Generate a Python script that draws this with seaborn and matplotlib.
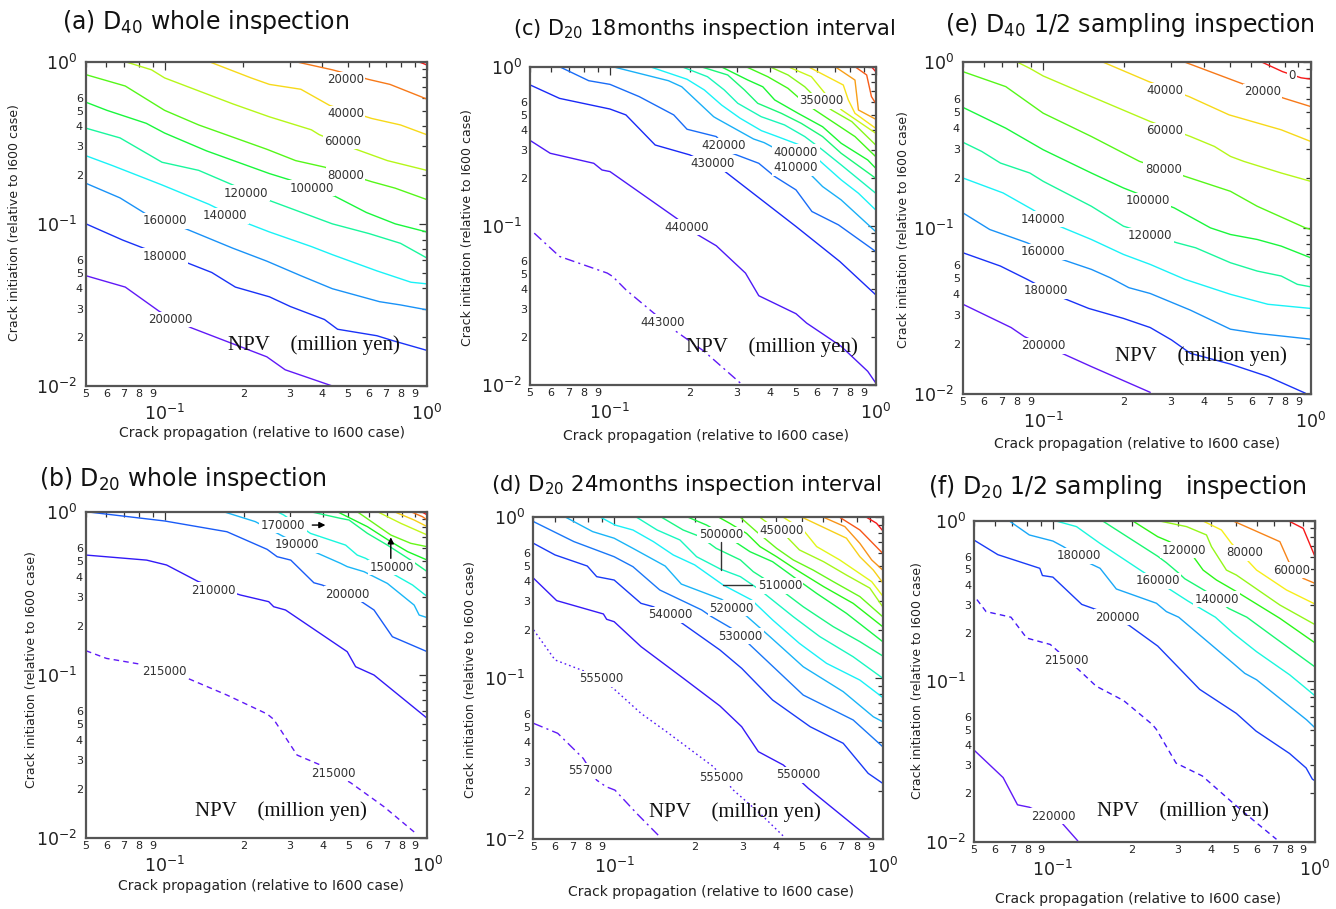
import colorsys
import numpy as np
import matplotlib
matplotlib.use("Agg")
import matplotlib.pyplot as plt
import seaborn as sns

sns.set_theme(style="white")
plt.rcParams["font.family"] = ["DejaVu Sans"]
plt.rcParams["mathtext.fontset"] = "dejavusans"

# ------------------------------------------------------------------
# NPV iso-lines (million yen).  Each line is given as log10 of the
# crack-propagation ratio (x) and log10 of the crack-initiation ratio (y).
# ------------------------------------------------------------------

# (a) D40 whole inspection
A_LEVELS = [200000, 180000, 160000, 140000, 120000, 100000, 80000, 60000, 40000, 20000, 0]
A_LOGX = [
    [-1.30, -1.15, -1.02, -0.90, -0.61, -0.54, -0.36],
    [-1.30, -1.16, -1.08, -0.93, -0.82, -0.73, -0.60, -0.52, -0.39, -0.34, -0.19, -0.13, 0.0],
    [-1.30, -1.17, -1.07, -0.92, -0.74, -0.61, -0.48, -0.36, -0.18, -0.10, 0.0],
    [-1.30, -1.20, -1.01, -0.83, -0.68, -0.60, -0.44, -0.36, -0.19, -0.06, 0.0],
    [-1.30, -1.17, -1.01, -0.87, -0.74, -0.61, -0.36, -0.22, -0.10, 0.0],
    [-1.30, -1.22, -1.07, -1.00, -0.84, -0.60, -0.52, -0.35, -0.23, -0.12, 0.0],
    [-1.30, -1.15, -1.00, -0.87, -0.61, -0.50, -0.39, -0.21, -0.12, 0.0],
    [-1.15, -1.05, -1.00, -0.74, -0.60, -0.44, -0.41, -0.27, -0.15, 0.0],
    [-0.83, -0.67, -0.60, -0.48, -0.37, -0.21, -0.10, 0.0],
    [-0.50, -0.36, -0.22, -0.14, 0.0],
    [-0.03, 0.0],
]
A_LOGY = [
    [-1.32, -1.39, -1.54, -1.64, -1.82, -1.90, -2.00],
    [-1.00, -1.10, -1.15, -1.23, -1.30, -1.39, -1.45, -1.51, -1.59, -1.65, -1.69, -1.72, -1.78],
    [-0.75, -0.84, -0.94, -1.03, -1.15, -1.23, -1.32, -1.40, -1.48, -1.50, -1.53],
    [-0.58, -0.64, -0.76, -0.88, -1.00, -1.05, -1.14, -1.19, -1.29, -1.36, -1.37],
    [-0.41, -0.47, -0.62, -0.67, -0.76, -0.85, -1.00, -1.06, -1.12, -1.21],
    [-0.25, -0.30, -0.38, -0.44, -0.55, -0.69, -0.73, -0.83, -0.93, -1.00, -1.05],
    [-0.08, -0.15, -0.30, -0.39, -0.54, -0.61, -0.65, -0.74, -0.78, -0.85],
    [0.0, -0.05, -0.10, -0.26, -0.34, -0.42, -0.45, -0.54, -0.61, -0.67],
    [0.0, -0.10, -0.14, -0.17, -0.27, -0.35, -0.39, -0.45],
    [0.0, -0.05, -0.11, -0.14, -0.23],
    [0.0, -0.02],
]

# (b) D20 whole inspection
B_LEVELS = [215000, 210000, 200000, 190000, 180000, 170000, 160000, 150000, 140000, 130000, 120000, 110000]
B_LOGX = [
    [-1.30, -1.222, -1.095, -0.916, -0.763, -0.61, -0.585, -0.496, -0.407, -0.292, -0.165, -0.044],
    [-1.30, -1.069, -0.993, -0.872, -0.712, -0.604, -0.585, -0.54, -0.305, -0.273, -0.203, 0.0],
    [-1.30, -1.00, -0.763, -0.61, -0.572, -0.52, -0.432, -0.40, -0.26, -0.203, -0.133, 0.0],
    [-0.776, -0.655, -0.547, -0.426, -0.33, -0.305, -0.241, -0.152, -0.05, -0.031, 0.0],
    [-0.572, -0.547, -0.445, -0.311, -0.267, -0.235, -0.056, 0.0],
    [-0.445, -0.33, -0.298, -0.228, -0.152, -0.063, 0.0],
    [-0.343, -0.228, -0.139, -0.075, 0.0],
    [-0.267, -0.139, -0.063, 0.0],
    [-0.19, -0.10, 0.0],
    [-0.126, -0.05, 0.0],
    [-0.063, -0.018, 0.0],
    [-0.022, 0.0],
]
B_LOGY = [
    [-0.853, -0.90, -0.935, -1.02, -1.125, -1.241, -1.274, -1.493, -1.554, -1.663, -1.81, -1.973],
    [-0.266, -0.297, -0.327, -0.429, -0.511, -0.552, -0.583, -0.603, -0.859, -0.951, -1.002, -1.268],
    [0.0, -0.057, -0.123, -0.231, -0.276, -0.297, -0.436, -0.45, -0.542, -0.603, -0.767, -0.859],
    [0.0, -0.061, -0.153, -0.249, -0.317, -0.337, -0.368, -0.44, -0.573, -0.634, -0.65],
    [0.0, -0.02, -0.133, -0.205, -0.266, -0.286, -0.45, -0.521],
    [0.0, -0.041, -0.051, -0.133, -0.205, -0.297, -0.368],
    [0.0, -0.092, -0.184, -0.245, -0.297],
    [0.0, -0.143, -0.194, -0.215],
    [0.0, -0.072, -0.143],
    [0.0, -0.051, -0.092],
    [0.0, -0.031, -0.051],
    [0.0, -0.02],
]

# (c) D20 18 months inspection interval
C_LEVELS = [443000, 440000, 430000, 420000, 410000, 400000, 390000, 380000,
            370000, 360000, 350000, 340000, 330000, 320000, 310000, 300000]
C_LOGX = [
    [-1.285, -1.19, -1.01, -0.99, -0.94, -0.76, -0.645, -0.51],
    [-1.30, -1.225, -1.061, -1.03, -1.00, -0.75, -0.67, -0.60, -0.49, -0.44, -0.30, -0.26, -0.13, -0.03, 0.0],
    [-1.30, -1.19, -1.00, -0.94, -0.83, -0.70, -0.57, -0.30, -0.135, 0.0],
    [-1.19, -1.08, -1.00, -0.89, -0.76, -0.71, -0.60, -0.54, -0.44, -0.38, -0.30, -0.24, -0.14, 0.0],
    [-0.99, -0.78, -0.73, -0.61, -0.60, -0.46, -0.42, -0.32, -0.25, -0.20, -0.13, 0.0],
    [-0.85, -0.71, -0.645, -0.58, -0.51, -0.43, -0.37, -0.27, -0.20, -0.13, -0.065, 0.0],
    [-0.73, -0.633, -0.57, -0.519, -0.431, -0.343, -0.267, -0.20, -0.13, 0.0],
    [-0.658, -0.557, -0.494, -0.444, -0.355, -0.28, -0.20, -0.13, 0.0],
    [-0.582, -0.481, -0.425, -0.38, -0.292, -0.20, -0.13, -0.03, 0.0],
    [-0.488, -0.406, -0.33, -0.28, -0.229, -0.153, -0.078, 0.0],
    [-0.399, -0.33, -0.267, -0.217, -0.166, -0.09, 0.0],
    [-0.33, -0.242, -0.191, -0.128, 0.0],
    [-0.254, -0.122, -0.103, -0.078, 0.0],
    [-0.153, -0.078, -0.065, 0.0],
    [-0.078, -0.034, -0.016, 0.0],
    [-0.016, 0.0],
]
C_LOGY = [
    [-1.046, -1.192, -1.297, -1.318, -1.402, -1.653, -1.789, -1.987],
    [-0.464, -0.544, -0.607, -0.649, -0.659, -0.952, -1.056, -1.125, -1.297, -1.439, -1.552, -1.611, -1.757, -1.914, -1.987],
    [-0.115, -0.199, -0.266, -0.303, -0.492, -0.554, -0.655, -1.004, -1.224, -1.433],
    [0.0, -0.088, -0.111, -0.188, -0.303, -0.393, -0.439, -0.544, -0.607, -0.69, -0.774, -0.91, -0.994, -1.161],
    [0.0, -0.088, -0.126, -0.314, -0.324, -0.454, -0.477, -0.565, -0.669, -0.753, -0.837, -1.036],
    [0.0, -0.079, -0.146, -0.241, -0.324, -0.402, -0.439, -0.502, -0.607, -0.711, -0.795, -0.90],
    [0.0, -0.063, -0.146, -0.23, -0.314, -0.366, -0.439, -0.523, -0.617, -0.795],
    [0.0, -0.052, -0.146, -0.23, -0.293, -0.356, -0.439, -0.544, -0.701],
    [0.0, -0.084, -0.126, -0.209, -0.293, -0.377, -0.481, -0.586, -0.638],
    [0.0, -0.063, -0.136, -0.209, -0.272, -0.356, -0.439, -0.565],
    [0.0, -0.052, -0.126, -0.209, -0.272, -0.345, -0.492],
    [0.0, -0.063, -0.167, -0.272, -0.418],
    [0.0, -0.115, -0.209, -0.293, -0.387],
    [0.0, -0.084, -0.272, -0.33],
    [0.0, -0.052, -0.188, -0.23],
    [0.0, -0.031],
]

# (d) D20 24 months inspection interval
D_LEVELS = [557000, 555000, 550000, 540000, 530000, 520000, 510000, 500000, 490000,
            480000, 470000, 460000, 450000, 440000, 430000, 420000, 410000, 400000]
D_LOGX = [
    [-1.30, -1.21, -1.115, -1.065, -1.03, -0.997, -0.916, -0.836],
    [-1.30, -1.22, -1.115, -1.01, -0.90, -0.805, -0.63, -0.556, -0.457, -0.37],
    [-1.30, -1.214, -1.04, -1.028, -1.00, -0.90, -0.743, -0.606, -0.525, -0.463, -0.37, -0.277, -0.048],
    [-1.30, -1.22, -1.10, -1.065, -1.00, -0.90, -0.854, -0.75, -0.606, -0.525, -0.41, -0.27, -0.147, -0.054, 0.0],
    [-1.30, -1.15, -1.00, -0.93, -0.83, -0.674, -0.637, -0.563, -0.50, -0.296, -0.11, 0.0],
    [-1.18, -1.08, -1.00, -0.93, -0.81, -0.75, -0.60, -0.507, -0.42, -0.296, -0.147, -0.035, 0.0],
    [-1.05, -0.997, -0.93, -0.854, -0.78, -0.70, -0.594, -0.488, -0.41, -0.31, -0.209, -0.085, 0.0],
    [-0.916, -0.84, -0.755, -0.693, -0.603, -0.53, -0.457, -0.333, -0.234, -0.11, 0.0],
    [-0.823, -0.743, -0.68, -0.62, -0.53, -0.482, -0.395, -0.296, -0.184, -0.085, 0.0],
    [-0.724, -0.656, -0.57, -0.494, -0.41, -0.333, -0.246, -0.135, 0.0],
    [-0.61, -0.57, -0.507, -0.457, -0.395, -0.32, -0.22, -0.11, 0.0],
    [-0.53, -0.47, -0.395, -0.333, -0.259, -0.184, -0.085, 0.0],
    [-0.457, -0.41, -0.358, -0.31, -0.22, -0.135, -0.048, 0.0],
    [-0.37, -0.296, -0.246, -0.16, -0.041, 0.0],
    [-0.30, -0.135, -0.085, -0.035, 0.0],
    [-0.22, -0.141, -0.085, -0.041, 0.0],
    [-0.16, -0.085, 0.0],
    [-0.06, -0.023, 0.0],
]
D_LOGY = [
    [-1.281, -1.343, -1.499, -1.634, -1.675, -1.696, -1.841, -1.976],
    [-0.70, -0.887, -0.954, -1.053, -1.219, -1.333, -1.551, -1.696, -1.841, -1.982],
    [-0.379, -0.518, -0.601, -0.634, -0.649, -0.804, -1.00, -1.173, -1.302, -1.457, -1.54, -1.685, -1.996],
    [-0.162, -0.234, -0.303, -0.369, -0.39, -0.535, -0.556, -0.655, -0.825, -0.939, -1.136, -1.302, -1.405, -1.592, -1.654],
    [-0.027, -0.151, -0.245, -0.307, -0.452, -0.576, -0.618, -0.69, -0.784, -1.105, -1.26, -1.426],
    [0.0, -0.089, -0.13, -0.193, -0.303, -0.415, -0.51, -0.614, -0.742, -0.929, -1.084, -1.24, -1.271],
    [0.0, -0.048, -0.079, -0.151, -0.234, -0.296, -0.421, -0.514, -0.638, -0.784, -0.908, -1.012, -1.12],
    [0.0, -0.079, -0.141, -0.245, -0.323, -0.369, -0.452, -0.618, -0.742, -0.867, -1.00],
    [0.0, -0.079, -0.12, -0.193, -0.265, -0.338, -0.431, -0.556, -0.68, -0.773, -0.862],
    [0.0, -0.048, -0.13, -0.214, -0.276, -0.369, -0.473, -0.597, -0.773],
    [0.0, -0.037, -0.10, -0.182, -0.245, -0.328, -0.431, -0.535, -0.68],
    [0.0, -0.089, -0.193, -0.265, -0.328, -0.40, -0.493, -0.618],
    [0.0, -0.058, -0.12, -0.203, -0.276, -0.359, -0.44, -0.556],
    [0.0, -0.079, -0.182, -0.265, -0.40, -0.489],
    [0.0, -0.13, -0.245, -0.328, -0.406],
    [0.0, -0.058, -0.162, -0.265, -0.328],
    [0.0, -0.079, -0.224],
    [0.0, -0.037, -0.083],
]

# (e) D40 1/2 sampling inspection
E_LEVELS = [200000, 180000, 160000, 140000, 120000, 100000, 80000, 60000, 40000, 20000, 0]
E_LOGX = [
    [-1.30, -1.12, -1.07, -0.93, -0.82, -0.60],
    [-1.30, -1.16, -1.06, -0.93, -0.83, -0.70, -0.60, -0.52, -0.45, -0.30, -0.16, -0.02],
    [-1.30, -1.20, -1.06, -0.93, -0.82, -0.75, -0.68, -0.60, -0.45, -0.30, -0.20, 0.0],
    [-1.30, -1.15, -1.04, -0.94, -0.82, -0.70, -0.60, -0.47, -0.30, -0.16, 0.0],
    [-1.30, -1.23, -1.16, -1.05, -1.00, -0.82, -0.70, -0.50, -0.43, -0.30, -0.20, -0.11, -0.05, 0.0],
    [-1.30, -1.14, -1.00, -0.82, -0.70, -0.51, -0.375, -0.30, -0.20, -0.11, 0.0],
    [-1.30, -1.14, -1.00, -0.82, -0.64, -0.47, -0.30, -0.20, -0.02, 0.0],
    [-1.10, -1.05, -1.00, -0.82, -0.60, -0.45, -0.36, -0.30, -0.25, -0.11, 0.0],
    [-0.78, -0.605, -0.455, -0.305, -0.11, 0.0],
    [-0.475, -0.26, -0.10, 0.0],
    [-0.186, -0.105, -0.036, 0.0],
]
E_LOGY = [
    [-1.46, -1.60, -1.655, -1.755, -1.835, -1.99],
    [-1.15, -1.23, -1.31, -1.42, -1.485, -1.545, -1.60, -1.675, -1.755, -1.82, -1.895, -1.995],
    [-0.91, -1.01, -1.09, -1.19, -1.25, -1.30, -1.36, -1.395, -1.495, -1.61, -1.635, -1.67],
    [-0.70, -0.79, -0.89, -0.99, -1.07, -1.16, -1.22, -1.31, -1.40, -1.46, -1.485],
    [-0.485, -0.54, -0.61, -0.67, -0.72, -0.87, -0.99, -1.09, -1.12, -1.21, -1.26, -1.29, -1.34, -1.355],
    [-0.275, -0.40, -0.53, -0.67, -0.76, -0.88, -1.00, -1.04, -1.07, -1.11, -1.18],
    [-0.06, -0.15, -0.31, -0.45, -0.60, -0.69, -0.78, -0.87, -1.00, -1.01],
    [0.0, -0.04, -0.086, -0.21, -0.36, -0.45, -0.51, -0.57, -0.60, -0.67, -0.72],
    [0.0, -0.12, -0.21, -0.32, -0.41, -0.48],
    [0.0, -0.13, -0.22, -0.27],
    [0.0, -0.06, -0.097, -0.105],
]

# (f) D20 1/2 sampling inspection
F_LEVELS = [220000, 215000, 200000, 180000, 160000, 140000, 120000, 100000, 80000, 60000, 40000]
F_LOGX = [
    [-1.30, -1.19, -1.135, -1.09, -0.97, -0.905],
    [-1.29, -1.255, -1.20, -1.16, -1.10, -1.01, -0.975, -0.90, -0.835, -0.73, -0.62, -0.605, -0.53, -0.43, -0.312, -0.236, -0.147],
    [-1.30, -1.21, -1.05, -1.04, -1.00, -0.89, -0.83, -0.71, -0.60, -0.44, -0.30, -0.225, -0.097, -0.034, -0.01, 0.0],
    [-1.166, -1.09, -1.00, -0.96, -0.86, -0.82, -0.758, -0.605, -0.567, -0.52, -0.312, -0.268, -0.223, -0.032, 0.0],
    [-0.988, -0.91, -0.82, -0.663, -0.56, -0.484, -0.38, -0.312, -0.223, -0.096, 0.0],
    [-0.81, -0.60, -0.567, -0.52, -0.497, -0.414, -0.33, -0.26, -0.16, 0.0],
    [-0.695, -0.60, -0.555, -0.465, -0.427, -0.376, -0.30, -0.134, 0.0],
    [-0.593, -0.49, -0.414, -0.395, -0.338, -0.30, -0.134, 0.0],
    [-0.427, -0.357, -0.319, -0.223, -0.109, 0.0],
    [-0.312, -0.134, -0.10, -0.045, 0.0],
    [-0.10, -0.045, 0.0],
]
F_LOGY = [
    [-1.43, -1.60, -1.77, -1.785, -1.875, -1.995],
    [-0.49, -0.565, -0.585, -0.60, -0.73, -0.77, -0.82, -0.93, -1.03, -1.12, -1.27, -1.30, -1.51, -1.59, -1.76, -1.865, -1.985],
    [-0.12, -0.21, -0.295, -0.34, -0.35, -0.52, -0.555, -0.65, -0.78, -1.05, -1.20, -1.31, -1.45, -1.54, -1.61, -1.62],
    [0.0, -0.087, -0.125, -0.16, -0.264, -0.295, -0.424, -0.513, -0.565, -0.60, -0.888, -0.95, -0.99, -1.24, -1.29],
    [0.0, -0.035, -0.14, -0.31, -0.42, -0.50, -0.60, -0.70, -0.815, -0.96, -1.09],
    [0.0, -0.22, -0.26, -0.325, -0.36, -0.44, -0.545, -0.60, -0.72, -0.91],
    [0.0, -0.098, -0.129, -0.22, -0.306, -0.368, -0.44, -0.607, -0.76],
    [0.0, -0.035, -0.087, -0.16, -0.306, -0.337, -0.524, -0.646],
    [0.0, -0.056, -0.139, -0.306, -0.43, -0.518],
    [0.0, -0.129, -0.254, -0.358, -0.389],
    [0.0, -0.046, -0.222],
]

# In-line contour labels: (level, log10 x, log10 y)
A_LABELS = [(200000, -0.98, -1.59), (180000, -1.00, -1.20), (160000, -1.00, -0.98),
            (140000, -0.77, -0.95), (120000, -0.69, -0.81), (100000, -0.44, -0.78),
            (80000, -0.31, -0.70), (60000, -0.32, -0.49), (40000, -0.31, -0.32),
            (20000, -0.31, -0.11)]
B_LABELS = [(215000, -1.00, -0.978), (215000, -0.356, -1.605), (210000, -0.814, -0.481),
            (200000, -0.305, -0.505), (190000, -0.498, -0.204), (170000, -0.549, -0.082),
            (150000, -0.135, -0.342)]
C_LABELS = [(443000, -0.803, -1.605), (440000, -0.711, -1.008), (430000, -0.614, -0.611),
            (420000, -0.572, -0.498), (410000, -0.30, -0.634), (400000, -0.30, -0.538),
            (350000, -0.204, -0.213)]
D_LABELS = [(557000, -1.088, -1.575), (555000, -1.047, -1.005), (555000, -0.603, -1.619),
            (550000, -0.315, -1.602), (540000, -0.79, -0.607), (530000, -0.53, -0.738),
            (520000, -0.563, -0.564), (510000, -0.383, -0.427), (500000, -0.603, -0.11),
            (450000, -0.376, -0.079)]
E_LABELS = [(200000, -0.998, -1.711), (180000, -0.99, -1.38), (160000, -1.00, -1.143),
            (140000, -1.00, -0.947), (120000, -0.60, -1.049), (100000, -0.609, -0.837),
            (80000, -0.551, -0.646), (60000, -0.545, -0.415), (40000, -0.546, -0.175),
            (20000, -0.18, -0.18), (0, -0.07, -0.084)]
F_LABELS = [(220000, -1.00, -1.84), (215000, -0.95, -0.867), (200000, -0.755, -0.60),
            (180000, -0.90, -0.218), (160000, -0.60, -0.372), (140000, -0.376, -0.489),
            (120000, -0.50, -0.181), (80000, -0.27, -0.198), (60000, -0.09, -0.306)]

# Pointer arrows / leader lines (start, end) in log10 coordinates
B_POINTERS = [((-0.438, -0.082), (-0.388, -0.082)), ((-0.139, -0.286), (-0.139, -0.157))]
D_LEADERS = [((-0.603, -0.151), (-0.603, -0.328)), ((-0.594, -0.421), (-0.488, -0.421))]

# ------------------------------------------------------------------
# Layout and styling
# ------------------------------------------------------------------
W, H = 1336, 909
DASHED = (0, (4, 3))
DASHDOT = (0, (7, 3, 1.5, 3))
DOTTED = (0, (1.2, 2.2))

PANELS = [
    dict(title=r"(a) D$_{40}$ whole inspection", tsize=17, levels=A_LEVELS, lx=A_LOGX, ly=A_LOGY,
         labels=A_LABELS, cmin=0, cmax=200000, styles={},
         box=(85.7, 61.7, 426.7, 386.0), title_xy=(62, 22), xlab=(262, 433), ylab=(15, 223), npv=(0.418, 0.126)),
    dict(title=r"(b) D$_{20}$ whole inspection", tsize=17, levels=B_LEVELS, lx=B_LOGX, ly=B_LOGY,
         labels=B_LABELS, cmin=110000, cmax=215000, styles={215000: DASHED},
         box=(85.7, 511.7, 427.3, 837.7), title_xy=(39, 479), xlab=(261, 886), ylab=(32, 670), npv=(0.319, 0.080)),
    dict(title=r"(c) D$_{20}$ 18months inspection interval", tsize=15, levels=C_LEVELS, lx=C_LOGX, ly=C_LOGY,
         labels=C_LABELS, cmin=300000, cmax=443000, styles={443000: DASHDOT},
         box=(530.0, 66.7, 875.7, 385.0), title_xy=(513, 29), xlab=(706, 436), ylab=(468, 228), npv=(0.451, 0.120)),
    dict(title=r"(d) D$_{20}$ 24months inspection interval", tsize=15.3, levels=D_LEVELS, lx=D_LOGX, ly=D_LOGY,
         labels=D_LABELS, cmin=400000, cmax=557000, styles={555000: DOTTED, 557000: DASHDOT},
         box=(533.3, 517.3, 882.7, 839.0), title_xy=(491, 485), xlab=(711, 892), ylab=(470, 680), npv=(0.332, 0.085)),
    dict(title=r"(e) D$_{40}$ 1/2 sampling inspection", tsize=17, levels=E_LEVELS, lx=E_LOGX, ly=E_LOGY,
         labels=E_LABELS, cmin=0, cmax=200000, styles={},
         box=(962.7, 61.7, 1310.7, 394.0), title_xy=(945, 25), xlab=(1137, 444), ylab=(903, 230), npv=(0.438, 0.114)),
    dict(title=r"(f) D$_{20}$ 1/2 sampling   inspection", tsize=17, levels=F_LEVELS, lx=F_LOGX, ly=F_LOGY,
         labels=F_LABELS, cmin=40000, cmax=220000, styles={215000: DASHED},
         box=(974.0, 521.0, 1315.0, 841.7), title_xy=(928, 487), xlab=(1138, 899), ylab=(917, 681), npv=(0.362, 0.094)),
]


def level_color(level, cmin, cmax):
    t = min(max((level - cmin) / (cmax - cmin), 0.0), 1.0)
    return colorsys.hsv_to_rgb(0.72 * t, 0.9, 0.97)


def dress_axes(ax):
    ax.set_xscale("log")
    ax.set_yscale("log")
    ax.set_xlim(0.05, 1.0)
    ax.set_ylim(0.01, 1.0)
    ax.set_xticks([0.1, 1.0], [r"$10^{-1}$", r"$10^{0}$"])
    xminor = [k / 100 for k in range(5, 10)] + [k / 10 for k in range(2, 10)]
    ax.set_xticks(xminor, [str(k) for k in range(5, 10)] + [str(k) for k in range(2, 10)], minor=True)
    ax.set_yticks([0.01, 0.1, 1.0], [r"$10^{-2}$", r"$10^{-1}$", r"$10^{0}$"])
    yminor = [k * 10.0 ** e for e in (-2, -1) for k in range(2, 10)]
    ax.set_yticks(yminor, [str(k) if k <= 6 else "" for e in (-2, -1) for k in range(2, 10)], minor=True)
    ax.tick_params(which="both", direction="in", top=True, right=True, color="#333333",
                   width=0.9, labelcolor="#222222")
    ax.tick_params(which="major", length=6)
    ax.tick_params(which="minor", length=3.5)
    ax.tick_params(axis="x", which="major", labelsize=12.5, pad=13)
    ax.tick_params(axis="x", which="minor", labelsize=8, pad=2.5)
    ax.tick_params(axis="y", which="major", labelsize=12.5, pad=6)
    ax.tick_params(axis="y", which="minor", labelsize=8, pad=2)
    for sp in ax.spines.values():
        sp.set_color("#555555")
        sp.set_linewidth(1.6)
    ax.set_xlabel("")
    ax.set_ylabel("")


fig = plt.figure(figsize=(W / 100, H / 100), dpi=100)
fig.patch.set_facecolor("white")

axes = []
for p in PANELS:
    l, t, r, b = p["box"]
    ax = fig.add_axes([l / W, 1 - b / H, (r - l) / W, (b - t) / H])
    ax.set_xscale("log")
    ax.set_yscale("log")
    for lev, xs, ys in zip(p["levels"], p["lx"], p["ly"]):
        sns.lineplot(x=10 ** np.asarray(xs), y=10 ** np.asarray(ys), sort=False, estimator=None,
                     ax=ax, color=level_color(lev, p["cmin"], p["cmax"]), linewidth=1.0,
                     linestyle=p["styles"].get(lev, "-"), legend=False)
    for lev, lxp, lyp in p["labels"]:
        ax.text(10 ** lxp, 10 ** lyp, f"{lev}", ha="center", va="center", fontsize=8.5,
                color="#333333", zorder=5,
                bbox=dict(boxstyle="square,pad=0.12", fc="white", ec="none"))
    ax.text(p["npv"][0], p["npv"][1], "NPV    (million yen)", transform=ax.transAxes,
            fontfamily="Liberation Serif", fontsize=15, ha="left", va="center", color="#111111", zorder=6)
    dress_axes(ax)
    fig.text(p["title_xy"][0] / W, 1 - p["title_xy"][1] / H, p["title"], ha="left", va="center",
             fontsize=p["tsize"], color="#111111")
    fig.text(p["xlab"][0] / W, 1 - p["xlab"][1] / H, "Crack propagation (relative to I600 case)",
             ha="center", va="center", fontsize=10, color="#222222")
    fig.text(p["ylab"][0] / W, 1 - p["ylab"][1] / H, "Crack initiation (relative to I600 case)",
             ha="center", va="center", rotation=90, fontsize=9, color="#222222")
    axes.append(ax)

ax_b, ax_d = axes[1], axes[3]
for (x0, y0), (x1, y1) in B_POINTERS:
    ax_b.annotate("", xy=(10 ** x1, 10 ** y1), xytext=(10 ** x0, 10 ** y0), zorder=6,
                  arrowprops=dict(arrowstyle="-|>", color="black", lw=1.0, mutation_scale=9,
                                  shrinkA=0, shrinkB=0))
for (x0, y0), (x1, y1) in D_LEADERS:
    ax_d.plot([10 ** x0, 10 ** x1], [10 ** y0, 10 ** y1], color="#333333", lw=1.0, zorder=6)

fig.savefig("out.png", dpi=100, facecolor="white")
